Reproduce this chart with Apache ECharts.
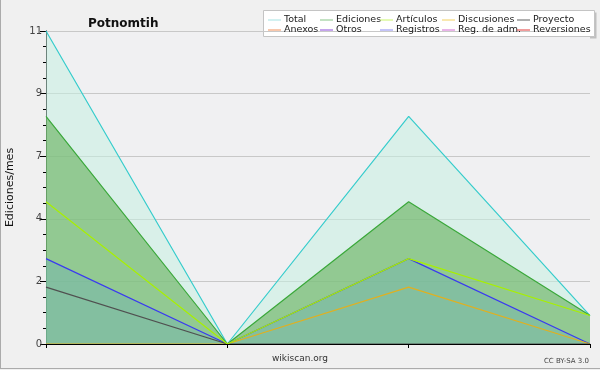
<!DOCTYPE html>
<html><head><meta charset="utf-8">
<script src="https://cdn.jsdelivr.net/npm/echarts@6/dist/echarts.min.js"></script>
<style>html,body{margin:0;padding:0;background:#f0f0f0}#c{width:600px;height:370px}</style>
</head><body><div id="c"></div>
<script>
const categories = ['M1', 'M2', 'M3', 'M4'];
const total = [11, 0, 8, 1];
const ediciones = [8, 0, 5, 1];
const articulos = [5, 0, 3, 1];
const discusiones = [0, 0, 2, 0];
const proyecto = [2, 0, 0, 0];
const registros = [3, 0, 3, 0];
const anexos = [];
const otros = [];
const regAdm = [];
const reversiones = [];
const yTicks = [0, 2.2, 4.4, 6.6, 8.8, 11];

const F = 'DejaVu Sans';
const chart = echarts.init(document.getElementById('c'), null, {renderer: 'canvas'});

function ser(name, data, color, area, z) {
  const s = {name, type: 'line', data, symbol: 'none', silent: true, z: z,
    lineStyle: {color, width: 1.2}, itemStyle: {color}, emphasis: {disabled: true}};
  if (area) s.areaStyle = area;
  return s;
}
const legendCols = [
  [['Total', '#a4e2e2'], ['Anexos', '#f0905a']],
  [['Ediciones', '#86c486'], ['Otros', '#8a4ad8']],
  [['Artículos', '#c8f46a'], ['Registros', '#8888f0']],
  [['Discusiones', '#f2d060'], ['Reg. de adm.', '#d26ad2']],
  [['Proyecto', '#606060'], ['Reversiones', '#e03a3a']]
];
const colLeft = [268, 320, 380, 442, 517];

const option = {
  backgroundColor: '#f0f0f0',
  animation: false,
  title: {text: 'Potnomtih', left: 83, top: 13,
    textStyle: {fontFamily: F, fontSize: 12, fontWeight: 'bold', color: '#111'}},
  grid: {left: 46, right: 10, top: 31, bottom: 26, outerBoundsMode: 'none', containLabel: false,
    show: true, backgroundColor: '#f0f0f2', borderWidth: 0},
  legend: legendCols.map((col, i) => ({
    orient: 'vertical', left: colLeft[i], top: 15, itemGap: 0,
    itemWidth: 13, itemHeight: 1, icon: 'rect', selectedMode: false,
    padding: 0,
    textStyle: {fontFamily: F, fontSize: 9.5, color: '#1a1a1a', lineHeight: 10, padding: [0, 0, 0, -2]},
    data: col.map(([n, c]) => ({name: n, itemStyle: {color: c}}))
  })),
  xAxis: {type: 'category', data: categories, boundaryGap: false, z: 10,
    axisLine: {lineStyle: {color: '#000', width: 1}},
    axisTick: {show: true, length: 4, lineStyle: {color: '#000'}},
    axisLabel: {show: false}, splitLine: {show: false}},
  yAxis: {type: 'value', min: yTicks[0], max: yTicks[yTicks.length - 1], interval: yTicks[1] - yTicks[0],
    name: 'Ediciones/mes', nameLocation: 'middle', nameGap: 30, nameRotate: 90,
    nameTextStyle: {fontFamily: F, fontSize: 11, color: '#111'},
    axisLine: {show: true, lineStyle: {color: '#000'}},
    axisTick: {show: true, length: 6, lineStyle: {color: '#000'}},
    minorTick: {show: true, splitNumber: 4, length: 3, lineStyle: {color: '#000'}},
    axisLabel: {fontFamily: F, fontSize: 10, color: '#444', margin: 4, formatter: v => String(Math.round(v))},
    splitLine: {show: true, lineStyle: {color: '#c8c8c8', width: 1}}},
  graphic: [
    {type: 'rect', z: -1, shape: {x: 265.5, y: 12.5, width: 331, height: 26}, style: {fill: '#c0c0c0', stroke: null}},
    {type: 'rect', z: 0, shape: {x: 263.5, y: 10.5, width: 331, height: 26}, style: {fill: '#fff', stroke: '#c4c4c4', lineWidth: 1}},
    {type: 'line', shape: {x1: 0.5, y1: 0, x2: 0.5, y2: 369}, style: {stroke: '#ababab', lineWidth: 1}},
    {type: 'line', shape: {x1: 0, y1: 368.5, x2: 600, y2: 368.5}, style: {stroke: '#ababab', lineWidth: 1}},
    {type: 'text', left: 'center', top: 354, style: {text: 'wikiscan.org', fontFamily: F, fontSize: 9, fill: '#333'}},
    {type: 'text', right: 11, top: 358, style: {text: 'CC BY-SA 3.0', fontFamily: F, fontSize: 7, fill: '#444'}}
  ],
  series: [
    ser('Total', total, '#36cccc', {color: 'rgb(198,240,226)', opacity: 0.55}, 2),
    ser('Ediciones', ediciones, '#3aa83a', {color: 'rgb(99,175,89)', opacity: 0.6}, 3),
    ser('Artículos', articulos, '#a8f000', null, 6),
    ser('Discusiones', discusiones, '#e0b020', null, 5),
    ser('Proyecto', proyecto, '#505050', null, 5),
    ser('Anexos', anexos, '#f08040', null, 5),
    ser('Otros', otros, '#7030d0', null, 5),
    ser('Registros', registros, '#3a3af0', {color: 'rgb(115,181,173)', opacity: 0.5}, 4),
    ser('Reg. de adm.', regAdm, '#d040d0', null, 5),
    ser('Reversiones', reversiones, '#e02020', null, 5)
  ]
};
chart.setOption(option);
</script></body></html>
